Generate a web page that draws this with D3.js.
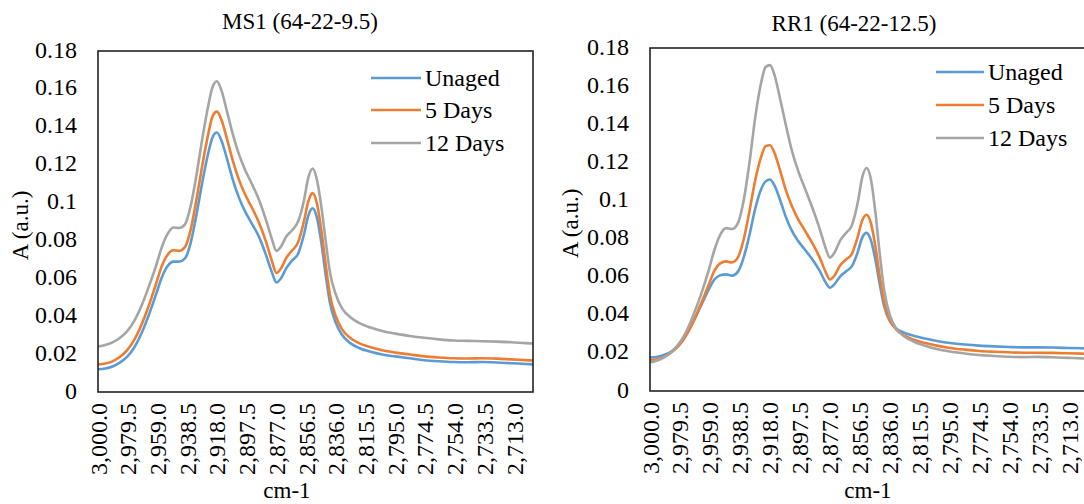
<!DOCTYPE html>
<html>
<head>
<meta charset="utf-8">
<script src="https://cdn.jsdelivr.net/npm/d3@7"></script>
<style>
  html, body { margin: 0; padding: 0; background: #fff; overflow: hidden; }
  svg { display: block; }
</style>
</head>
<body>
<svg id="chart" width="1084" height="504"></svg>
<script>
// Wavenumber grid (cm-1), shared by every spectrum
const wavenumbers = [3000, 2995, 2990, 2985, 2980, 2975, 2970, 2965, 2960, 2956,
  2952, 2948, 2944, 2940, 2936, 2932, 2928, 2924, 2921, 2918,
  2915, 2911, 2907, 2903, 2899, 2894, 2889, 2884, 2880, 2877,
  2874, 2870, 2866, 2862, 2858, 2855, 2852, 2849, 2846, 2843,
  2840, 2836, 2832, 2826, 2820, 2812, 2804, 2795, 2785, 2775,
  2765, 2755, 2745, 2735, 2725, 2715, 2705, 2700];

// MS1 (64-22-9.5) absorbance
const ms1Unaged = [0.0120, 0.0124, 0.0135, 0.0155, 0.0185, 0.0235, 0.0310, 0.0405, 0.0515, 0.0605,
  0.0665, 0.0688, 0.0688, 0.0705, 0.0790, 0.0940, 0.1110, 0.1260, 0.1345, 0.1370,
  0.1330, 0.1230, 0.1120, 0.1030, 0.0960, 0.0890, 0.0820, 0.0720, 0.0630, 0.0578,
  0.0598, 0.0655, 0.0695, 0.0730, 0.0830, 0.0930, 0.0970, 0.0920, 0.0790, 0.0620,
  0.0470, 0.0365, 0.0305, 0.0258, 0.0232, 0.0212, 0.0198, 0.0188, 0.0178, 0.0168,
  0.0162, 0.0158, 0.0157, 0.0158, 0.0156, 0.0152, 0.0148, 0.0146];
const ms1Days5 = [0.0145, 0.0150, 0.0162, 0.0185, 0.0220, 0.0275, 0.0355, 0.0455, 0.0570, 0.0665,
  0.0725, 0.0748, 0.0745, 0.0765, 0.0860, 0.1020, 0.1200, 0.1360, 0.1455, 0.1480,
  0.1440, 0.1335, 0.1220, 0.1125, 0.1050, 0.0975, 0.0895, 0.0790, 0.0690, 0.0628,
  0.0650, 0.0710, 0.0748, 0.0790, 0.0900, 0.1005, 0.1050, 0.0995, 0.0855, 0.0675,
  0.0510, 0.0400, 0.0335, 0.0285, 0.0258, 0.0236, 0.0220, 0.0208, 0.0198, 0.0188,
  0.0182, 0.0178, 0.0177, 0.0178, 0.0176, 0.0172, 0.0168, 0.0166];
const ms1Days12 = [0.0240, 0.0248, 0.0262, 0.0285, 0.0320, 0.0375, 0.0455, 0.0555, 0.0665, 0.0765,
  0.0835, 0.0868, 0.0866, 0.0885, 0.0985, 0.1150, 0.1340, 0.1510, 0.1610, 0.1640,
  0.1595, 0.1480, 0.1360, 0.1260, 0.1180, 0.1100, 0.1015, 0.0905, 0.0805, 0.0745,
  0.0765, 0.0822, 0.0855, 0.0900, 0.1010, 0.1130, 0.1180, 0.1120, 0.0980, 0.0800,
  0.0630, 0.0515, 0.0445, 0.0395, 0.0365, 0.0340, 0.0322, 0.0308, 0.0296, 0.0286,
  0.0278, 0.0272, 0.0270, 0.0268, 0.0266, 0.0263, 0.0258, 0.0256];

// RR1 (64-22-12.5) absorbance
const rr1Unaged = [0.0175, 0.0180, 0.0190, 0.0210, 0.0245, 0.0300, 0.0370, 0.0450, 0.0530, 0.0585,
  0.0608, 0.0612, 0.0605, 0.0625, 0.0700, 0.0820, 0.0960, 0.1060, 0.1100, 0.1110,
  0.1080, 0.1000, 0.0910, 0.0840, 0.0790, 0.0740, 0.0690, 0.0630, 0.0570, 0.0542,
  0.0560, 0.0602, 0.0628, 0.0655, 0.0730, 0.0805, 0.0830, 0.0790, 0.0690, 0.0560,
  0.0445, 0.0365, 0.0330, 0.0305, 0.0290, 0.0275, 0.0262, 0.0252, 0.0244, 0.0238,
  0.0234, 0.0231, 0.0229, 0.0229, 0.0228, 0.0226, 0.0224, 0.0223];
const rr1Days5 = [0.0160, 0.0167, 0.0180, 0.0205, 0.0240, 0.0295, 0.0370, 0.0460, 0.0555, 0.0630,
  0.0670, 0.0680, 0.0675, 0.0700, 0.0795, 0.0945, 0.1110, 0.1230, 0.1285, 0.1290,
  0.1250, 0.1155, 0.1050, 0.0970, 0.0905, 0.0840, 0.0775, 0.0700, 0.0625, 0.0585,
  0.0605, 0.0660, 0.0690, 0.0720, 0.0810, 0.0895, 0.0925, 0.0880, 0.0760, 0.0600,
  0.0465, 0.0370, 0.0325, 0.0290, 0.0270, 0.0252, 0.0238, 0.0226, 0.0217, 0.0210,
  0.0206, 0.0203, 0.0201, 0.0201, 0.0200, 0.0198, 0.0196, 0.0195];
const rr1Days12 = [0.0150, 0.0160, 0.0178, 0.0208, 0.0250, 0.0315, 0.0405, 0.0510, 0.0630, 0.0740,
  0.0820, 0.0855, 0.0850, 0.0880, 0.1000, 0.1200, 0.1440, 0.1620, 0.1700, 0.1710,
  0.1660, 0.1530, 0.1390, 0.1260, 0.1160, 0.1060, 0.0960, 0.0850, 0.0750, 0.0700,
  0.0725, 0.0790, 0.0830, 0.0870, 0.0990, 0.1120, 0.1170, 0.1110, 0.0940, 0.0720,
  0.0530, 0.0395, 0.0330, 0.0285, 0.0260, 0.0238, 0.0220, 0.0207, 0.0197, 0.0189,
  0.0184, 0.0180, 0.0178, 0.0179, 0.0177, 0.0174, 0.0171, 0.0169];

const seriesNames = ["Unaged", "5 Days", "12 Days"];
const seriesColors = ["#5B9BD5", "#ED7D31", "#A5A5A5"];

// Category-axis labels (every 20.5 cm-1)
const xTickValues = [3000, 2979.5, 2959, 2938.5, 2918, 2897.5, 2877, 2856.5, 2836,
  2815.5, 2795, 2774.5, 2754, 2733.5, 2713];
const xTickLabels = ["3,000.0", "2,979.5", "2,959.0", "2,938.5", "2,918.0", "2,897.5",
  "2,877.0", "2,856.5", "2,836.0", "2,815.5", "2,795.0", "2,774.5", "2,754.0",
  "2,733.5", "2,713.0"];
const yTickValues = [0, 0.02, 0.04, 0.06, 0.08, 0.1, 0.12, 0.14, 0.16, 0.18];
const yTickLabels = ["0", "0.02", "0.04", "0.06", "0.08", "0.1", "0.12", "0.14", "0.16", "0.18"];

const panelTitles = ["MS1 (64-22-9.5)", "RR1 (64-22-12.5)"];
const panelSeries = [[ms1Unaged, ms1Days5, ms1Days12], [rr1Unaged, rr1Days5, rr1Days12]];

// Page layout of the two panels
const layouts = [
  { x0: 98, x1: 533, y0: 51, y1: 392, titleX: 300, titleY: 21, yTitleX: 20, xTitleX: 287,
    legLine: [371, 421], legText: 425, legRows: [78, 110, 143] },
  { x0: 650, x1: 1089, y0: 48, y1: 391, titleX: 854, titleY: 23, yTitleX: 570, xTitleX: 868,
    legLine: [936, 984], legText: 988, legRows: [72, 105, 138] }
];

const FONT = "'Liberation Serif', 'Times New Roman', serif";
const svg = d3.select("#chart");
svg.append("rect").attr("width", 1084).attr("height", 504).attr("fill", "#fff");

function styleText(sel, size) {
  sel.attr("font-family", FONT).style("font-family", FONT)
    .style("font-size", size + "px").attr("fill", "#000");
}

layouts.forEach((L, p) => {
  const g = svg.append("g").attr("font-family", FONT);
  const x = d3.scaleLinear().domain([3000, 2700]).range([L.x0, L.x1]);
  const y = d3.scaleLinear().domain([0, 0.18]).range([L.y1, L.y0]);

  // Title
  styleText(g.append("text").attr("x", L.titleX).attr("y", L.titleY)
    .attr("text-anchor", "middle").attr("dominant-baseline", "central")
    .text(panelTitles[p]), 23);

  // Y axis labels
  const yAxis = g.append("g").attr("transform", `translate(${L.x0},0)`)
    .call(d3.axisLeft(y).tickValues(yTickValues)
      .tickFormat((d, i) => yTickLabels[i]).tickSize(0).tickPadding(21));
  yAxis.attr("font-family", FONT);
  yAxis.select(".domain").remove();
  styleText(yAxis.selectAll("text").attr("dy", null)
    .attr("dominant-baseline", "central").attr("y", -2), 24);

  // X axis labels (rotated)
  const xAxis = g.append("g").attr("transform", `translate(0,${L.y1})`)
    .call(d3.axisBottom(x).tickValues(xTickValues)
      .tickFormat((d, i) => xTickLabels[i]).tickSize(0));
  xAxis.attr("font-family", FONT);
  xAxis.select(".domain").remove();
  styleText(xAxis.selectAll("text").attr("dy", null).attr("y", null)
    .attr("text-anchor", "end").attr("dominant-baseline", "central")
    .attr("transform", "translate(0,11) rotate(-90)"), 24);

  // Axis titles
  styleText(g.append("text")
    .attr("transform", `translate(${L.yTitleX},${(L.y0 + L.y1) / 2 + 4}) rotate(-90)`)
    .attr("text-anchor", "middle").attr("dominant-baseline", "central")
    .text("A (a.u.)"), 23);
  styleText(g.append("text").attr("x", L.xTitleX).attr("y", 490)
    .attr("text-anchor", "middle").attr("dominant-baseline", "central")
    .text("cm-1"), 23);

  // Spectra, clipped to the plot area
  const clipId = "clip" + p;
  svg.append("clipPath").attr("id", clipId).append("rect")
    .attr("x", L.x0).attr("y", L.y0).attr("width", L.x1 - L.x0).attr("height", L.y1 - L.y0);
  const line = d3.line()
    .x((d, i) => x(wavenumbers[i]))
    .y(d => y(d))
    .curve(d3.curveMonotoneX);
  const plot = g.append("g").attr("clip-path", `url(#${clipId})`);
  panelSeries[p].forEach((vals, s) => {
    plot.append("path").datum(vals).attr("d", line)
      .attr("fill", "none").attr("stroke", seriesColors[s])
      .attr("stroke-width", 2.6).attr("stroke-linejoin", "round");
  });

  // Plot-area border
  g.append("rect").attr("x", L.x0).attr("y", L.y0)
    .attr("width", L.x1 - L.x0).attr("height", L.y1 - L.y0)
    .attr("fill", "none").attr("stroke", "#222").attr("stroke-width", 1.6);

  // Legend
  seriesNames.forEach((name, s) => {
    const ry = L.legRows[s];
    g.append("line").attr("x1", L.legLine[0]).attr("x2", L.legLine[1])
      .attr("y1", ry).attr("y2", ry)
      .attr("stroke", seriesColors[s]).attr("stroke-width", 2.6);
    styleText(g.append("text").attr("x", L.legText).attr("y", ry)
      .attr("dominant-baseline", "central").text(name), 24);
  });
});
</script>
</body>
</html>
